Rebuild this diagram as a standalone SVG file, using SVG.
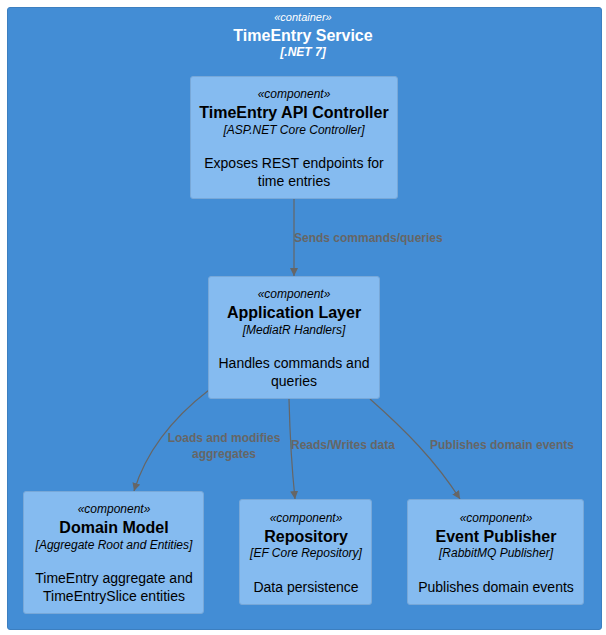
<svg xmlns="http://www.w3.org/2000/svg" width="606" height="635" viewBox="0 0 606 635">
<style>
text{font-family:"Liberation Sans",Arial,sans-serif;text-anchor:middle}
.comp{fill:#85BBF0;stroke:#78A8D8;stroke-width:1}
.st{font-size:12px;font-style:italic;fill:#000}
.ti{font-size:16px;font-weight:bold;fill:#000}
.te{font-size:12px;font-style:italic;fill:#000}
.de{font-size:14px;fill:#000}
.edge{fill:none;stroke:#666;stroke-width:1.2}
.el{font-size:12px;font-weight:bold;fill:#666}
</style>
<defs>
<marker id="arr" viewBox="0 0 10 10" refX="10" refY="5" markerWidth="8" markerHeight="8" markerUnits="userSpaceOnUse" orient="auto">
<path d="M0,0 L10,5 L0,10 z" fill="#666"/>
</marker>
</defs>
<rect width="606" height="635" fill="#fff"/>
<g id="container">
<rect x="7.5" y="7.5" width="594" height="622" rx="2.5" fill="#438DD5" stroke="#3C7FC0"/>
<text x="303" y="21" style="font-size:11px;font-style:italic;fill:#fff">«container»</text>
<text x="303" y="41" style="font-size:16px;font-weight:bold;fill:#fff">TimeEntry Service</text>
<text x="303" y="56" style="font-size:12px;font-style:italic;font-weight:bold;fill:#fff">[.NET 7]</text>
</g>
<g id="connectors">
<path class="edge" d="M294,198 L294,276" marker-end="url(#arr)"/>
<text class="el" x="294" y="242" style="text-anchor:start">Sends commands/queries</text>
<path class="edge" d="M209,390 C170,420 145,455 134,491" marker-end="url(#arr)"/>
<text class="el" x="224" y="442">Loads and modifies</text>
<text class="el" x="224" y="458">aggregates</text>
<path class="edge" d="M289,399 C290,440 292,470 295,499" marker-end="url(#arr)"/>
<text class="el" x="291" y="449" style="text-anchor:start">Reads/Writes data</text>
<path class="edge" d="M370,399 C405,430 435,460 460,499" marker-end="url(#arr)"/>
<text class="el" x="430" y="449" style="text-anchor:start">Publishes domain events</text>
</g>
<g id="api">
<rect class="comp" x="190.5" y="76.5" width="207" height="122" rx="2.5"/>
<text class="st" x="294" y="98">«component»</text>
<text class="ti" x="294" y="118">TimeEntry API Controller</text>
<text class="te" x="294" y="134">[ASP.NET Core Controller]</text>
<text class="de" x="294" y="168">Exposes REST endpoints for</text>
<text class="de" x="294" y="186">time entries</text>
</g>
<g id="app">
<rect class="comp" x="208.5" y="276.5" width="171" height="122" rx="2.5"/>
<text class="st" x="294" y="298">«component»</text>
<text class="ti" x="294" y="318">Application Layer</text>
<text class="te" x="294" y="334">[MediatR Handlers]</text>
<text class="de" x="294" y="368">Handles commands and</text>
<text class="de" x="294" y="386">queries</text>
</g>
<g id="domain">
<rect class="comp" x="23.5" y="491.5" width="180" height="122" rx="2.5"/>
<text class="st" x="114" y="513">«component»</text>
<text class="ti" x="114" y="533">Domain Model</text>
<text class="te" x="114" y="549">[Aggregate Root and Entities]</text>
<text class="de" x="114" y="583">TimeEntry aggregate and</text>
<text class="de" x="114" y="601">TimeEntrySlice entities</text>
</g>
<g id="repository">
<rect class="comp" x="239.5" y="499.5" width="132" height="105" rx="2.5"/>
<text class="st" x="306" y="522">«component»</text>
<text class="ti" x="306" y="542">Repository</text>
<text class="te" x="306" y="557">[EF Core Repository]</text>
<text class="de" x="306" y="592">Data persistence</text>
</g>
<g id="publisher">
<rect class="comp" x="407.5" y="499.5" width="176" height="105" rx="2.5"/>
<text class="st" x="496" y="522">«component»</text>
<text class="ti" x="496" y="542">Event Publisher</text>
<text class="te" x="496" y="557">[RabbitMQ Publisher]</text>
<text class="de" x="496" y="592">Publishes domain events</text>
</g>
</svg>
